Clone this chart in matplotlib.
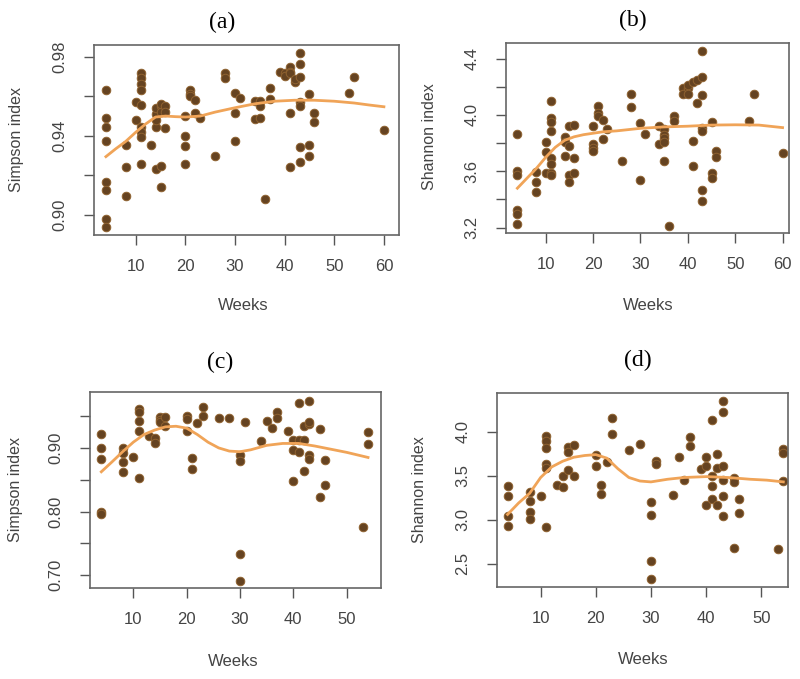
import matplotlib
matplotlib.use("Agg")
import matplotlib.pyplot as plt

plt.rcParams["font.family"] = "Liberation Sans"

# (a) Simpson index, first cohort
weeks_a = [4, 4, 4, 4, 4, 4, 4, 4, 8, 8, 8, 10, 10,
           11, 11, 11, 11, 11, 11, 11, 11, 11, 13, 14, 14, 14, 14, 14,
           15, 15, 15, 15, 15, 16, 16, 16, 20, 20, 20, 20, 21, 21, 21, 22, 22, 23,
           26, 28, 28, 30, 30, 30, 31, 34, 34, 35, 35, 35, 36, 37, 37,
           39, 40, 40, 41, 41, 41, 41, 41, 42, 42,
           43, 43, 43, 43, 43, 43, 43, 45, 45, 45, 46, 46, 53, 54, 60]
simpson_a = [0.963, 0.949, 0.9445, 0.9376, 0.9167, 0.9127, 0.898, 0.8937, 0.9354, 0.9243, 0.9095, 0.9573, 0.948,
             0.972, 0.969, 0.966, 0.963, 0.9556, 0.9443, 0.9421, 0.9396, 0.9256, 0.9354, 0.923, 0.9443, 0.951, 0.954, 0.948,
             0.925, 0.9143, 0.955, 0.952, 0.956, 0.9441, 0.955, 0.952, 0.950, 0.940, 0.935, 0.9258, 0.963, 0.961, 0.960, 0.958, 0.9517, 0.949,
             0.930, 0.972, 0.9694, 0.9615, 0.9514, 0.9376, 0.959, 0.9576, 0.9484, 0.9576, 0.9551, 0.9492, 0.908, 0.964, 0.9585,
             0.9724, 0.9716, 0.970, 0.975, 0.9724, 0.9716, 0.9514, 0.9244, 0.9674, 0.9686,
             0.982, 0.9763, 0.9696, 0.9573, 0.9551, 0.9345, 0.927, 0.9611, 0.9354, 0.9298, 0.9514, 0.9472, 0.9615, 0.9696, 0.943]
fit_weeks_a = [4, 6, 8, 10, 12, 14, 16, 18, 20, 23, 26, 30, 34, 38, 42, 46, 50, 54, 57, 60]
fit_a = [0.9295, 0.9335, 0.9372, 0.9418, 0.9460, 0.9495, 0.9500, 0.9497, 0.9495, 0.9500, 0.9520, 0.9542,
         0.9562, 0.9575, 0.9580, 0.9580, 0.9575, 0.9566, 0.9556, 0.9547]

# (b) Shannon index, first cohort
weeks_b = [4, 4, 4, 4, 4, 4, 8, 8, 8, 10, 10, 10,
           11, 11, 11, 11, 11, 11, 11, 11, 14, 14, 14, 15, 15, 15, 15, 16, 16, 16,
           20, 20, 20, 20, 21, 21, 21, 22, 22, 23, 26, 28, 28, 30, 30, 31,
           34, 34, 35, 35, 35, 35, 35, 36, 37, 37, 39, 39, 40, 40, 40, 41, 41, 41, 42, 42,
           43, 43, 43, 43, 43, 43, 43, 45, 45, 45, 46, 46, 53, 54, 60]
shannon_b = [3.864, 3.599, 3.575, 3.325, 3.30, 3.226, 3.594, 3.521, 3.453, 3.805, 3.734, 3.587,
             4.100, 3.977, 3.953, 3.887, 3.694, 3.651, 3.587, 3.571, 3.842, 3.81, 3.71, 3.78, 3.575, 3.524, 3.918, 3.925, 3.694, 3.587,
             3.918, 3.793, 3.764, 3.741, 4.065, 4.013, 3.989, 3.965, 3.831, 3.901, 3.675, 4.147, 4.055, 3.946, 3.540, 3.865,
             3.918, 3.793, 3.901, 3.859, 3.835, 3.807, 3.675, 3.209, 3.994, 3.958, 4.19, 4.15, 4.19, 4.21, 4.15, 4.237, 3.812, 3.635, 4.249, 4.083,
             4.272, 4.457, 4.138, 3.906, 3.887, 3.464, 3.391, 3.949, 3.587, 3.552, 3.746, 3.698, 3.958, 4.150, 3.729]
fit_weeks_b = [4, 6, 8, 10, 12, 14, 16, 18, 20, 22, 25, 30, 35, 40, 45, 50, 55, 60]
fit_b = [3.48, 3.55, 3.62, 3.70, 3.77, 3.82, 3.845, 3.86, 3.87, 3.88, 3.887, 3.905, 3.915, 3.92, 3.928, 3.93, 3.928, 3.91]

# (c) Simpson index, second cohort
weeks_c = [4, 4, 4, 4, 4, 8, 8, 8, 8, 10, 11, 11, 11, 11, 11, 13, 14, 14,
           15, 15, 15, 16, 16, 20, 20, 20, 21, 21, 22, 23, 23, 26, 28,
           30, 30, 30, 30, 31, 34, 35, 36, 37, 37, 39, 40, 40, 40, 41, 41, 41, 42, 42, 42,
           43, 43, 43, 43, 43, 45, 45, 46, 46, 53, 54, 54]
simpson_c = [0.9214, 0.9005, 0.8822, 0.800, 0.797, 0.9005, 0.8916, 0.8786, 0.8614, 0.8854,
             0.9611, 0.9559, 0.9428, 0.9266, 0.8535, 0.919, 0.916, 0.908,
             0.949, 0.944, 0.941, 0.948, 0.934, 0.9507, 0.9454, 0.9266, 0.8838, 0.8666, 0.9386, 0.9648, 0.9507, 0.9465, 0.9465,
             0.889, 0.8796, 0.734, 0.6917, 0.940, 0.911, 0.9423, 0.9308, 0.9559, 0.9475, 0.9266,
             0.9125, 0.8969, 0.848, 0.970, 0.9125, 0.8932, 0.9125, 0.935, 0.863,
             0.9736, 0.937, 0.941, 0.889, 0.8822, 0.9298, 0.8232, 0.8812, 0.841, 0.7752, 0.9256, 0.9063]
fit_weeks_c = [4, 6, 8, 10, 12, 14, 16, 18, 20, 22, 24, 26, 28, 30, 32, 35, 38, 41, 44, 47, 50, 54]
fit_c = [0.8625, 0.878, 0.894, 0.909, 0.921, 0.928, 0.933, 0.934, 0.931, 0.921, 0.909, 0.900, 0.895, 0.894,
         0.897, 0.904, 0.907, 0.907, 0.903, 0.898, 0.893, 0.885]

# (d) Shannon index, second cohort
weeks_d = [4, 4, 4, 4, 8, 8, 8, 8, 10, 11, 11, 11, 11, 11, 11, 13, 14, 14,
           15, 15, 15, 16, 16, 20, 20, 21, 21, 22, 23, 23, 26, 28,
           30, 30, 30, 30, 31, 31, 34, 35, 36, 37, 37, 39, 40, 40, 40, 41, 41, 41, 41, 42, 42, 42,
           43, 43, 43, 43, 43, 43, 45, 45, 45, 46, 46, 53, 54, 54, 54]
shannon_d = [3.380, 3.267, 3.048, 2.927, 3.312, 3.218, 3.090, 3.003, 3.267,
             3.947, 3.890, 3.815, 3.633, 3.588, 2.916, 3.40, 3.373, 3.494,
             3.83, 3.77, 3.569, 3.845, 3.494, 3.739, 3.615, 3.392, 3.294, 3.656, 4.155, 3.974, 3.796, 3.865,
             3.203, 3.052, 2.530, 2.323, 3.671, 3.634, 3.286, 3.709, 3.456, 3.936, 3.834, 3.577,
             3.709, 3.607, 3.165, 4.136, 3.494, 3.388, 3.237, 3.747, 3.588, 3.165,
             4.351, 4.223, 3.607, 3.456, 3.275, 3.048, 3.475, 3.430, 2.682, 3.237, 3.078, 2.663, 3.804, 3.758, 3.445]
fit_weeks_d = [4, 6, 8, 10, 12, 14, 16, 18, 20, 22, 24, 26, 28, 30, 33, 36, 40, 44, 48, 51, 54]
fit_d = [3.06, 3.19, 3.30, 3.48, 3.60, 3.665, 3.71, 3.73, 3.74, 3.70, 3.58, 3.48, 3.44, 3.43, 3.46, 3.48,
         3.49, 3.48, 3.46, 3.45, 3.43]

POINT = "#654321"
EDGE = "#8f6230"
CURVE = "#f0a458"
GREY = "#555555"

fig = plt.figure(figsize=(8, 6.79), dpi=100, facecolor="white")


def panel(rect, weeks, vals, fweeks, fvals, xlim, ylim, xticks, yticks, ylabels):
    ax = fig.add_axes(rect)
    ax.scatter(weeks, vals, s=38, color=POINT, edgecolors=EDGE, linewidths=0.7, zorder=2)
    ax.plot(fweeks, fvals, color=CURVE, linewidth=2.0, zorder=3)
    ax.set_xlim(*xlim)
    ax.set_ylim(*ylim)
    ax.set_xticks(xticks)
    ax.set_yticks(yticks)
    ax.set_yticklabels(ylabels, rotation=90, va="center")
    ax.tick_params(axis="x", length=7, width=1, colors=GREY, labelsize=12, pad=10, labelcolor="#444444")
    ax.tick_params(axis="y", length=7, width=1, colors=GREY, labelsize=12, pad=12, labelcolor="#444444")
    for s in ax.spines.values():
        s.set_color("#666666")
        s.set_linewidth(1.2)
    return ax


def fx(px):
    return px / 800


def fy(py):
    return 1 - py / 679


panel([0.1175, 0.6539, 0.381, 0.2798], weeks_a, simpson_a, fit_weeks_a, fit_a,
      (1.6, 63.0), (0.8899, 0.9859), [10, 20, 30, 40, 50, 60],
      [0.90, 0.92, 0.94, 0.96, 0.98], ["0.90", "", "0.94", "", "0.98"])
panel([0.6325, 0.6568, 0.354, 0.2798], weeks_b, shannon_b, fit_weeks_b, fit_b,
      (1.6, 61.4), (3.162, 4.51), [10, 20, 30, 40, 50, 60],
      [3.2, 3.4, 3.6, 3.8, 4.0, 4.2, 4.4], ["3.2", "", "3.6", "", "4.0", "", "4.4"])
panel([0.1125, 0.134, 0.364, 0.2887], weeks_c, simpson_c, fit_weeks_c, fit_c,
      (1.88, 56.47), (0.680, 0.9878), [10, 20, 30, 40, 50],
      [0.70, 0.75, 0.80, 0.85, 0.90, 0.95], ["0.70", "", "0.80", "", "0.90", ""])
panel([0.621, 0.1355, 0.364, 0.2857], weeks_d, shannon_d, fit_weeks_d, fit_d,
      (2.05, 54.85), (2.236, 4.44), [10, 20, 30, 40, 50],
      [2.5, 3.0, 3.5, 4.0], ["2.5", "3.0", "3.5", "4.0"])

# panel titles, axis labels
titles = [("(a)", 222, 22), ("(b)", 633, 20), ("(c)", 220, 362), ("(d)", 638, 360)]
for t, px, py in titles:
    fig.text(fx(px), fy(py), t, ha="center", va="center", fontsize=17, family="Liberation Serif")

ylabs = [("Simpson index", 17, 140), ("Shannon index", 430, 137), ("Simpson index", 16, 490), ("Shannon index", 420, 490)]
for t, px, py in ylabs:
    fig.text(fx(px), fy(py), t, ha="center", va="center", rotation=90, fontsize=11.5, color="#444444")

xlabs = [(243, 305), (648, 305), (233, 662), (643, 660)]
for px, py in xlabs:
    fig.text(fx(px), fy(py), "Weeks", ha="center", va="center", fontsize=12, color="#444444")

fig.savefig("out.png", dpi=100, facecolor="white")
